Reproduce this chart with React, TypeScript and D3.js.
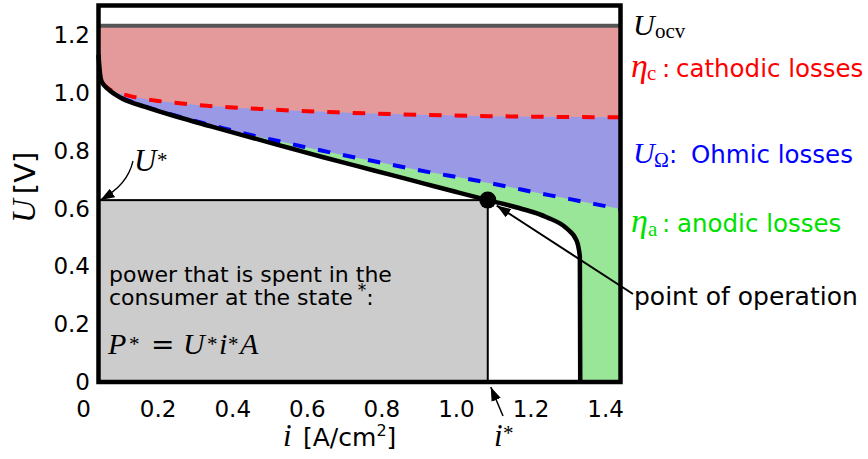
import React from 'react';
import * as d3 from 'd3';

const W = 868;
const H = 459;

// axis extents (data units)
const X_MIN = 0.04;
const X_MAX = 1.44;
const Y_MIN = 0;
const Y_MAX = 1.3;

const U_OCV = 1.23;
const I_STAR = 1.084;
const U_STAR = 0.628;

const xTicks = [0, 0.2, 0.4, 0.6, 0.8, 1.0, 1.2, 1.4];
const xTickLabels = ['0', '0.2', '0.4', '0.6', '0.8', '1.0', '1.2', '1.4'];
const yTicks = [0, 0.2, 0.4, 0.6, 0.8, 1.0, 1.2];
const yTickLabels = ['0', '0.2', '0.4', '0.6', '0.8', '1.0', '1.2'];

// cell voltage (polarisation curve)
const iCell = [0.040, 0.044, 0.0485, 0.066, 0.102, 0.165, 0.253, 0.344, 0.433, 0.555, 0.643, 0.732, 0.822, 0.911, 1.0, 1.084, 1.17, 1.242, 1.295, 1.322, 1.331, 1.332];
const uCell = [1.13, 1.065, 1.037, 1.011, 0.980, 0.950, 0.915, 0.882, 0.850, 0.807, 0.776, 0.746, 0.716, 0.686, 0.656, 0.628, 0.600, 0.569, 0.531, 0.489, 0.433, 0.0];

// Uocv minus cathodic losses (red dashed)
const iCathodic = [0.05, 0.07, 0.12, 0.191, 0.263, 0.33, 0.40, 0.473, 0.54, 0.679, 0.822, 0.96, 1.09, 1.44];
const uCathodic = [1.033, 1.010, 0.989, 0.972, 0.962, 0.954, 0.948, 0.943, 0.938, 0.931, 0.925, 0.921, 0.918, 0.914];

// minus ohmic losses (blue dashed)
const iOhmic = [0.10, 0.183, 0.254, 0.317, 0.388, 0.451, 0.522, 0.589, 0.661, 0.728, 0.80, 0.866, 0.933, 1.005, 1.072, 1.143, 1.206, 1.278, 1.346, 1.416, 1.44];
const uOhmic = [0.981, 0.944, 0.917, 0.895, 0.872, 0.852, 0.832, 0.8125, 0.793, 0.775, 0.757, 0.740, 0.723, 0.707, 0.691, 0.673, 0.656, 0.638, 0.621, 0.603, 0.597];

const sans = "'DejaVu Sans', sans-serif";
const serif = "'Liberation Serif', 'DejaVu Serif', serif";

type P = { i: number; u: number };
const zipPts = (a: number[], b: number[]): P[] => a.map((v, k) => ({ i: v, u: b[k] }));

export default function App() {
  const x = d3.scaleLinear().domain([X_MIN, X_MAX]).range([98.5, 620.5]);
  const y = d3.scaleLinear().domain([Y_MIN, Y_MAX]).range([382, 5.5]);

  const cellPts = zipPts(iCell, uCell);
  const cathPts = zipPts(iCathodic, uCathodic);
  const ohmPts = zipPts(iOhmic, uOhmic);

  const areaBelow = d3
    .area<P>()
    .x((d) => x(d.i))
    .y0(y(0))
    .y1((d) => y(d.u))
    .curve(d3.curveMonotoneX);
  const line = d3
    .line<P>()
    .x((d) => x(d.i))
    .y((d) => y(d.u))
    .curve(d3.curveMonotoneX);

  const ocvPts: P[] = [
    { i: X_MIN, u: U_OCV },
    { i: X_MAX, u: U_OCV },
  ];

  const dotX = x(I_STAR);
  const dotY = y(U_STAR);

  return (
    <svg
      width={W}
      height={H}
      viewBox={`0 0 ${W} ${H}`}
      style={{ position: 'absolute', left: 0, top: 0, background: '#fff' }}
    >
      <defs>
        <marker id="ah" viewBox="0 0 14 10" refX="14" refY="5" markerWidth="14" markerHeight="10" orient="auto" markerUnits="userSpaceOnUse">
          <path d="M0,0 L14,5 L0,10 Z" fill="#000" />
        </marker>
      </defs>
      <rect x={0} y={0} width={W} height={H} fill="#fff" />

      {/* loss regions (painted in layers) */}
      <path d={areaBelow(ocvPts) || ''} fill="#e49a9a" />
      <path d={areaBelow(cathPts) || ''} fill="#9999e5" />
      <path d={areaBelow(ohmPts) || ''} fill="#99e699" />
      <path d={areaBelow(cellPts) || ''} fill="#ffffff" />

      {/* open circuit voltage */}
      <path d={line(ocvPts) || ''} stroke="#555" strokeWidth={4} fill="none" />

      {/* dashed loss boundaries */}
      <path d={line(cathPts) || ''} stroke="#ff0000" strokeWidth={4} fill="none" strokeDasharray="12.5,13" />
      <path d={line(ohmPts) || ''} stroke="#0000ff" strokeWidth={4} fill="none" strokeDasharray="12.5,13" />

      {/* power rectangle */}
      <rect
        x={x(X_MIN)}
        y={y(U_STAR)}
        width={x(I_STAR) - x(X_MIN)}
        height={y(0) - y(U_STAR)}
        fill="#cccccc"
        stroke="#000"
        strokeWidth={2}
      />

      {/* polarisation curve */}
      <path d={line(cellPts) || ''} stroke="#000" strokeWidth={4.5} fill="none" strokeLinejoin="round" />

      {/* operating point */}
      <circle cx={dotX} cy={dotY} r={8.5} fill="#000" />

      {/* frame */}
      <rect
        x={x(X_MIN)}
        y={y(Y_MAX)}
        width={x(X_MAX) - x(X_MIN)}
        height={y(Y_MIN) - y(Y_MAX)}
        fill="none"
        stroke="#000"
        strokeWidth={4.5}
      />

      {/* tick labels */}
      {xTicks.map((t, k) => (
        <text key={'xt' + k} x={x(t)} y={417} textAnchor="middle" fontFamily={sans} fontSize={23} fill="#000">
          {xTickLabels[k]}
        </text>
      ))}
      {yTicks.map((t, k) => (
        <text key={'yt' + k} x={90} y={y(t) + 8.3} textAnchor="end" fontFamily={sans} fontSize={23} fill="#000">
          {yTickLabels[k]}
        </text>
      ))}

      {/* axis titles */}
      <text x={283} y={446} fill="#000">
        <tspan fontFamily={serif} fontStyle="italic" fontSize={31}>i</tspan>
        <tspan x={303} fontFamily={sans} fontSize={25}>[A/cm</tspan>
        <tspan fontFamily={sans} fontSize={16} dy={-10}>2</tspan>
        <tspan fontFamily={sans} fontSize={25} dy={10}>]</tspan>
      </text>
      <text transform="translate(35,223) rotate(-90)" fill="#000">
        <tspan fontFamily={serif} fontStyle="italic" fontSize={33}>U</tspan>
        <tspan fontFamily={sans} fontSize={29} dx={5}>[V]</tspan>
      </text>

      {/* right-hand labels */}
      <text y={35} fill="#000">
        <tspan x={633} fontFamily={serif} fontStyle="italic" fontSize={30}>U</tspan>
        <tspan x={655} dy={3} fontFamily={serif} fontSize={21}>ocv</tspan>
      </text>
      <text y={77} fill="#ff0000">
        <tspan x={631} fontFamily={serif} fontStyle="italic" fontSize={34}>η</tspan>
        <tspan x={647} dy={3} fontFamily={serif} fontSize={21}>c</tspan>
        <tspan x={662} dy={-3} fontFamily={sans} fontSize={24.5}>:</tspan>
        <tspan x={676} fontFamily={sans} fontSize={24.5}>cathodic losses</tspan>
      </text>
      <text y={163} fill="#0000ff">
        <tspan x={633} fontFamily={serif} fontStyle="italic" fontSize={30}>U</tspan>
        <tspan x={654} dy={4} fontFamily={serif} fontSize={20}>Ω</tspan>
        <tspan x={669} dy={-4} fontFamily={sans} fontSize={24.5}>:</tspan>
        <tspan x={691} fontFamily={sans} fontSize={24.5}>Ohmic losses</tspan>
      </text>
      <text y={232} fill="#00e000">
        <tspan x={631} fontFamily={serif} fontStyle="italic" fontSize={34}>η</tspan>
        <tspan x={648} dy={4} fontFamily={serif} fontSize={21}>a</tspan>
        <tspan x={662} dy={-4} fontFamily={sans} fontSize={24.5}>:</tspan>
        <tspan x={677} fontFamily={sans} fontSize={24.5}>anodic losses</tspan>
      </text>
      <text x={634} y={305} fontFamily={sans} fontSize={25} fill="#000">point of operation</text>

      {/* power annotation */}
      <text fontFamily={sans} fontSize={22} fill="#000">
        <tspan x={109} y={282}>power that is spent in the</tspan>
        <tspan x={109} y={305}>consumer at the state</tspan>
        <tspan fontSize={17} dx={5} dy={-9}>*</tspan>
        <tspan dy={9}>:</tspan>
      </text>
      <text y={354} fontFamily={serif} fontSize={30} fill="#000">
        <tspan x={108} fontStyle="italic">P</tspan>
        <tspan x={129} fontSize={21} dy={-3}>*</tspan>
        <tspan x={151} dy={3} fontFamily="'DejaVu Serif', serif" fontSize={28}>=</tspan>
        <tspan x={183} fontStyle="italic">U</tspan>
        <tspan x={207} fontSize={21} dy={-3}>*</tspan>
        <tspan x={219} dy={3} fontStyle="italic">i</tspan>
        <tspan x={228} fontSize={21} dy={-3}>*</tspan>
        <tspan x={240} dy={3} fontStyle="italic">A</tspan>
      </text>

      {/* U* annotation */}
      <text y={171} fontFamily={serif} fill="#000">
        <tspan x={134} fontStyle="italic" fontSize={31}>U</tspan>
        <tspan x={157} fontSize={21} dy={-4}>*</tspan>
      </text>
      <path
        d={`M133,161 C129,178 119,189 ${x(X_MIN) + 2},${dotY}`}
        stroke="#000"
        strokeWidth={1.3}
        fill="none"
        markerEnd="url(#ah)"
      />

      {/* i* annotation */}
      <text y={446} fontFamily={serif} fill="#000">
        <tspan x={494} fontStyle="italic" fontSize={31}>i</tspan>
        <tspan x={503} fontSize={21} dy={-6}>*</tspan>
      </text>
      <path d={`M503,416 L${dotX + 3},${y(0) + 5}`} stroke="#000" strokeWidth={1.5} fill="none" markerEnd="url(#ah)" />

      {/* point of operation arrow */}
      <path d={`M633,294 L${dotX + 9},${dotY + 5.5}`} stroke="#000" strokeWidth={2} fill="none" markerEnd="url(#ah)" />
    </svg>
  );
}
